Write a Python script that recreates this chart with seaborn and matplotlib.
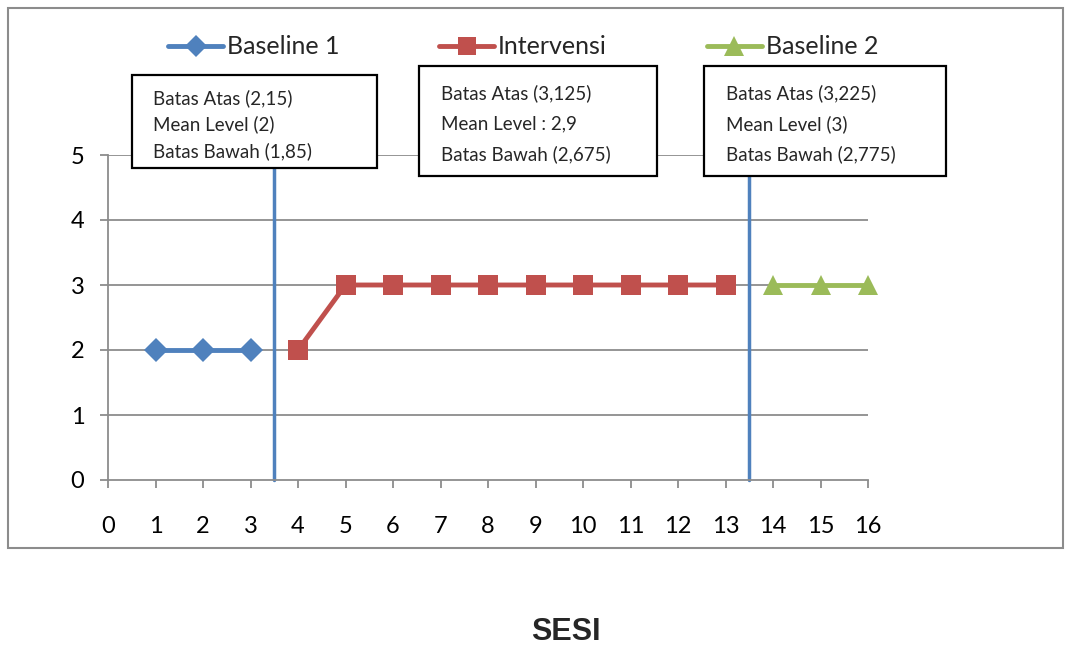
import matplotlib
matplotlib.use("Agg")
import matplotlib.pyplot as plt
import seaborn as sns
import pandas as pd
from matplotlib.patches import Rectangle

# data
baseline1_x = [1, 2, 3]
baseline1_y = [2, 2, 2]
intervensi_x = [4, 5, 6, 7, 8, 9, 10, 11, 12, 13]
intervensi_y = [2, 3, 3, 3, 3, 3, 3, 3, 3, 3]
baseline2_x = [14, 15, 16]
baseline2_y = [3, 3, 3]
phase_lines = [3.5, 13.5]
box_texts = [
    ["Batas Atas (2,15)", "Mean Level (2)", "Batas Bawah (1,85)"],
    ["Batas Atas (3,125)", "Mean Level : 2,9", "Batas Bawah (2,675)"],
    ["Batas Atas (3,225)", "Mean Level (3)", "Batas Bawah (2,775)"],
]

sns.set_style("white")
plt.rcParams['font.family'] = ['Lato', 'DejaVu Sans']

W, H = 1065, 645
fig = plt.figure(figsize=(W / 100, H / 100), dpi=100)

def fx(px):
    return px / W

def fy(py):
    return 1 - py / H

ax = fig.add_axes([fx(108), fy(480), fx(868) - fx(108), fy(155) - fy(480)])

blue, red, green = "#4F81BD", "#C0504D", "#9BBB59"
grid_c = "#8C8C8C"

for y in [1, 2, 3, 4, 5]:
    ax.axhline(y, color=grid_c, lw=1.3, zorder=1)

for xv in phase_lines:
    ax.plot([xv, xv], [0, 5.6], color=blue, lw=2.5, zorder=2, clip_on=False)

d1 = pd.DataFrame({"x": baseline1_x, "y": baseline1_y})
d2 = pd.DataFrame({"x": intervensi_x, "y": intervensi_y})
d3 = pd.DataFrame({"x": baseline2_x, "y": baseline2_y})
sns.lineplot(data=d1, x="x", y="y", ax=ax, color=blue, lw=3.5, marker="D",
             markersize=12, markeredgewidth=0, label="Baseline 1", zorder=3)
sns.lineplot(data=d2, x="x", y="y", ax=ax, color=red, lw=3.5, marker="s",
             markersize=14, markeredgewidth=0, label="Intervensi", zorder=3)
sns.lineplot(data=d3, x="x", y="y", ax=ax, color=green, lw=3.5, marker="^",
             markersize=15, markeredgewidth=0, label="Baseline 2", zorder=3)
for ln in ax.lines[-3:]:
    ln.set_clip_on(False)

ax.set_xlim(0, 16)
ax.set_ylim(0, 5)
ax.set_xticks(range(0, 17))
ax.set_yticks(range(0, 6))
ax.set_xlabel("")
ax.set_ylabel("")
ax.tick_params(axis="both", which="both", direction="out", length=6, width=1.3,
               color=grid_c, labelsize=17, labelcolor="black",
               bottom=True, left=True)
ax.tick_params(axis="x", pad=20)
ax.tick_params(axis="y", pad=11)
for s in ["top", "right"]:
    ax.spines[s].set_visible(False)
for s in ["left", "bottom"]:
    ax.spines[s].set_color(grid_c)
    ax.spines[s].set_linewidth(1.3)

handles, labels = ax.get_legend_handles_labels()
ax.get_legend().remove()
fig.legend(handles, labels, loc="center", bbox_to_anchor=(fx(523), fy(47)),
           ncol=3, frameon=False, fontsize=18, handlelength=2.2,
           handletextpad=0.15, columnspacing=4.0, markerscale=0.95)

# annotation boxes
boxes = [(132, 75, 377, 168, 153, [98, 124, 151]),
         (419, 66, 657, 176, 441, [93, 124, 154]),
         (704, 66, 946, 176, 726, [93, 124, 154])]
for (x0, y0, x1, y1, tx, tys), lines in zip(boxes, box_texts):
    fig.patches.append(Rectangle((fx(x0), fy(y1)), fx(x1) - fx(x0), fy(y0) - fy(y1),
                                 transform=fig.transFigure, facecolor="white",
                                 edgecolor="black", lw=1.6, zorder=10))
    for t, ty in zip(lines, tys):
        fig.text(fx(tx), fy(ty), t, fontsize=13.5, va="center", ha="left", zorder=11)

# outer frame
fig.patches.append(Rectangle((fx(8), fy(548)), fx(1063) - fx(8), fy(8) - fy(548),
                             transform=fig.transFigure, fill=False,
                             edgecolor="#8C8C8C", lw=1.5, zorder=0))

fig.text(fx(566), fy(632), "SESI", fontsize=22, fontweight="bold",
         family=["Liberation Sans", "DejaVu Sans"], ha="center", va="center")

fig.savefig("out.png", dpi=100)
